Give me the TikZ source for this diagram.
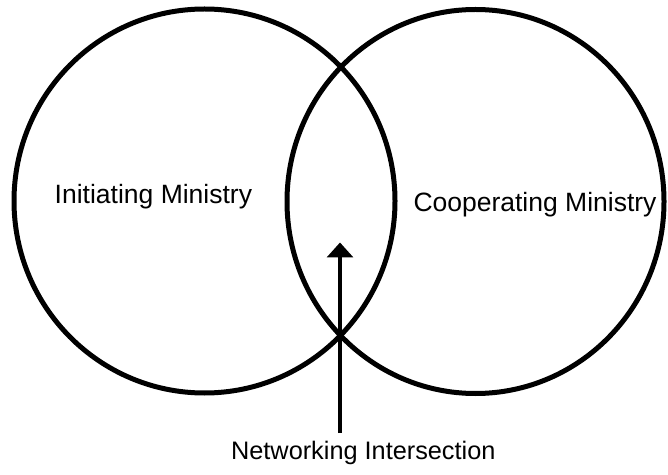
\documentclass[tikz,border=0pt]{standalone}
\usepackage{fontspec}
\setmainfont{Liberation Sans}
\usetikzlibrary{shapes.geometric,arrows.meta}
\begin{document}
\begin{tikzpicture}[x=1pt,y=1pt,
  ring/.style={draw=black,line width=5pt,ellipse,inner sep=0pt},
  lbl/.style={anchor=base,inner sep=0pt,font=\fontsize{26.5}{32}\selectfont},
  pointer/.style={draw=black,line width=3.5pt,-{Triangle[width=26pt,length=15pt]}}]
\useasboundingbox (0,0) rectangle (668,474);
\node[ring,minimum width=381pt,minimum height=384pt] (left) at (204.5,273) {};
\node[ring,minimum width=377pt,minimum height=384pt] (right) at (475.5,272.5) {};
\node[lbl] (init) at (153.4,270.7) {Initiating Ministry};
\node[lbl] (coop) at (535,262.3) {Cooperating Ministry};
\node[lbl,font=\fontsize{25.3}{30}\selectfont] (net) at (363.3,14.7) {Networking Intersection};
\coordinate (astart) at (340,41);
\coordinate (atip) at (340,231.5);
\draw[pointer] (astart) -- (atip);
\end{tikzpicture}
\end{document}
